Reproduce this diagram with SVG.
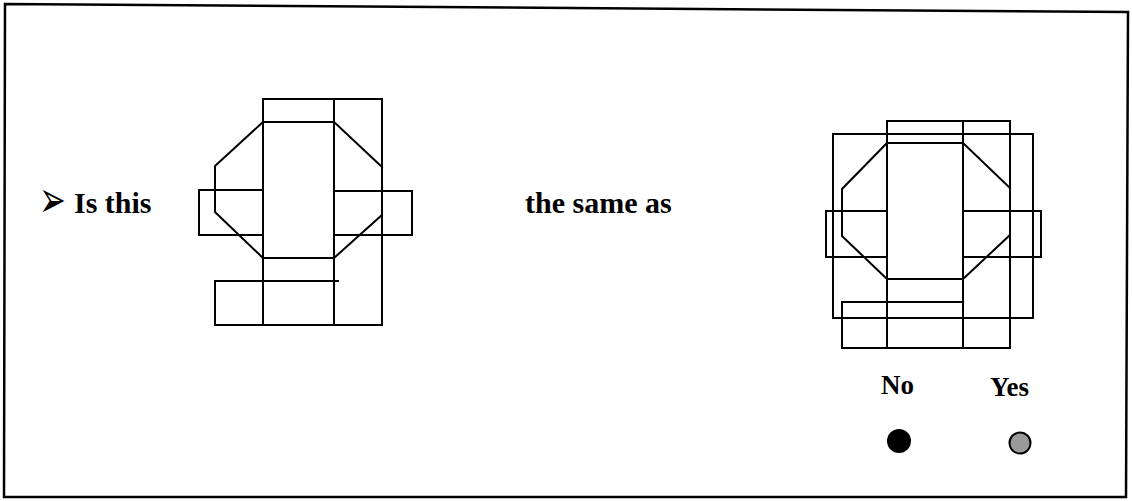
<svg xmlns="http://www.w3.org/2000/svg" width="1132" height="501" viewBox="0 0 1132 501">
<style>
.ln{fill:none;stroke:#000;stroke-width:2;stroke-linejoin:miter;stroke-linecap:square}
.frame{fill:none;stroke:#000;stroke-width:2.5}
.t{font-family:"Liberation Serif","Times New Roman",serif;font-weight:bold;font-size:30px;fill:#000}
.s{font-family:"Liberation Serif","Times New Roman",serif;font-weight:bold;font-size:27px;fill:#000}
.b{font-family:"DejaVu Sans",sans-serif;font-size:32px;fill:#000}
</style>
<rect width="1132" height="501" fill="#fff"/>
<g id="frame">
<polygon class="frame" points="5,4 1128,12 1126,497 4,497"/>
</g>
<g id="question">
<text class="b" transform="translate(39,202) scale(1,1.6)" x="0" y="9.6">➢</text>
<text class="t" x="74" y="213">Is this</text>
<text class="t" x="525" y="213">the same as</text>
</g>
<g id="figure-left">
<path class="ln" d="M263,99 H382 V325 M263,99 V325 M334,99 V325 M263,122 H334 M263,258 H334"/>
<polyline class="ln" points="263,122 215,166 215,212 263,258"/>
<polyline class="ln" points="263,190 199,190 199,235 263,235"/>
<path class="ln" d="M334,122 L382,167 M382,215 L334,258"/>
<polyline class="ln" points="335,191 412,191 412,235 334,235"/>
<polyline class="ln" points="338,281 215,281 215,325 382,325"/>
</g>
<g id="figure-right">
<rect class="ln" x="833" y="134" width="200" height="184"/>
<path class="ln" d="M887,121 H1010 V348 M887,121 V348 M963,121 V348 M887,143 H963 M887,279 H963"/>
<polyline class="ln" points="887,143 842,189 842,236 887,279"/>
<polyline class="ln" points="887,211 826,211 826,257 887,257"/>
<path class="ln" d="M963,143 L1010,188 M1010,235 L963,279"/>
<polyline class="ln" points="963,211 1041,211 1041,257 963,257"/>
<polyline class="ln" points="963,302 842,302 842,348 1010,348"/>
</g>
<g id="option-no">
<text class="s" x="881" y="394">No</text>
<circle cx="899" cy="441" r="12" fill="#000"/>
</g>
<g id="option-yes">
<text class="s" x="990" y="396">Yes</text>
<circle cx="1020" cy="443" r="10.5" fill="#9a9a9a" stroke="#000" stroke-width="2"/>
</g>
</svg>
